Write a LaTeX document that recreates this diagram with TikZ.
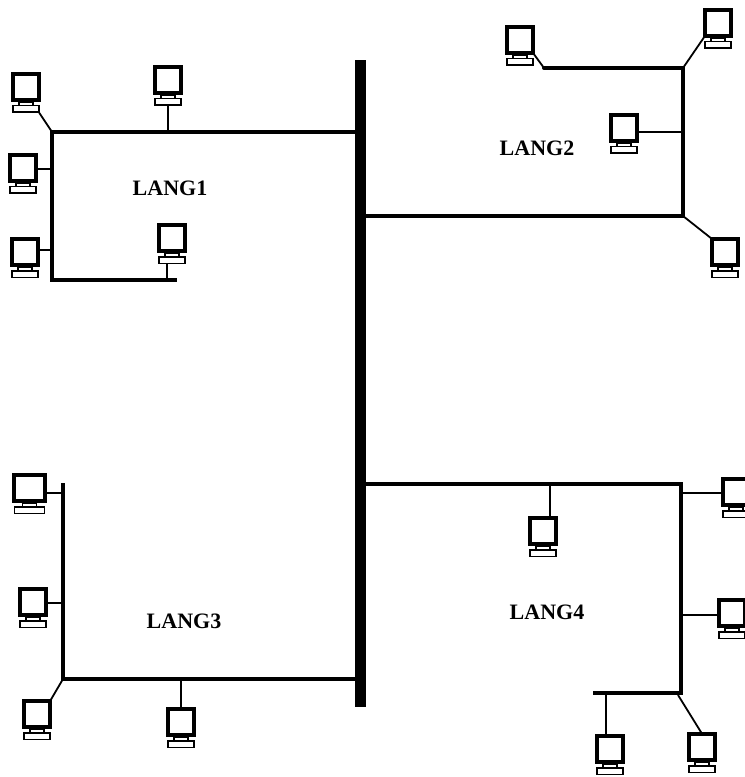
\documentclass[tikz,border=0pt]{standalone}
\usepackage{fontspec}
\setmainfont{Liberation Serif}
\tikzset{
  monitor/.style={draw=black,fill=white,line width=3.8*0.75pt,minimum width=26.5*0.75pt,minimum height=26.5*0.75pt,inner sep=0pt,outer sep=0pt},
  kbd/.style={draw=black,fill=white,line width=1.5*0.75pt,minimum width=26*0.75pt,minimum height=6.5*0.75pt,inner sep=0pt,outer sep=0pt},
  standbox/.style={draw=black,fill=white,line width=1.2*0.75pt,minimum width=14*0.75pt,minimum height=3*0.75pt,inner sep=0pt,outer sep=0pt},
  bus/.style={draw=black,line width=4.6*0.75pt,line cap=round,line join=miter},
  thinbus/.style={draw=black,line width=3.6*0.75pt,line join=miter},
  tap/.style={draw=black,line width=1.8*0.75pt},
  spinebar/.style={fill=black,inner sep=0pt,outer sep=0pt,minimum width=11*0.75pt,minimum height=647*0.75pt},
  lang/.style={font=\fontsize{16.5pt}{18pt}\selectfont\bfseries,inner sep=0pt}
}
\newcommand{\pcunit}[4][26.5]{%
  \node[standbox] (#2s) at (#3,#4+16.7) {};
  \node[kbd,minimum width=#1*0.75pt-0.5pt] (#2k) at (#3,#4+22) {};
  \node[monitor,minimum width=#1*0.75pt] (#2) at (#3,#4) {};
}
\begin{document}
\begin{tikzpicture}[x=0.75pt,y=-0.75pt]
\useasboundingbox (0,0) rectangle (744,777);
\fill[white] (0,0) rectangle (744,777);
% backbone
\node[spinebar] (spine) at (360.5,383.5) {};
% computers
\pcunit{a}{26}{87}
\pcunit{b}{168}{80}
\pcunit{c}{23}{168}
\pcunit{d}{25}{252}
\pcunit{e}{172}{238}
\pcunit{f}{520}{40}
\pcunit{g}{718}{23}
\pcunit{h}{624}{128}
\pcunit{i}{725}{252}
\pcunit{j}{736}{492}
\pcunit{k}{732}{613}
\pcunit{l}{610}{749}
\pcunit{m}{702}{747}
\pcunit{n}{543}{531}
\pcunit[31]{o}{29.5}{488}
\pcunit{p}{33}{602}
\pcunit{q}{37}{714}
\pcunit{r}{181}{722}
% LAN corners
\coordinate (c1a) at (52,132);
\coordinate (c1b) at (52,280);
\coordinate (c1c) at (177,280);
\coordinate (c2a) at (544,68);
\coordinate (c2b) at (683,68);
\coordinate (c2c) at (683,216);
\coordinate (c3a) at (63,483);
\coordinate (c3b) at (63,679);
\coordinate (c4a) at (681,484);
\coordinate (c4b) at (681,693);
\coordinate (c4c) at (593,693);
% buses
\draw[bus,line cap=butt] (spine.west |- c1a) -- (c1a) -- (c1b) -- (c1c);
\draw[bus,line width=4*0.75pt] (c2a) -- (c2b) -- (c2c) -- (spine.east |- c2c);
\draw[thinbus] (c3a) -- (c3b) -- (spine.west |- c3b);
\draw[thinbus] (spine.east |- c4a) -- (c4a) -- (c4b) -- (c4c);
% taps LANG1
\draw[tap] (ak.south east) -- (c1a);
\draw[tap] (bk.south) -- (bk.south |- c1a);
\draw[tap] (c.east |- 0,169) -- (c1a |- 0,169);
\draw[tap] (d.east |- 0,250) -- (c1a |- 0,250);
\draw[tap] (ek.south) ++(-5,0) -- (167,280);
% taps LANG2
\draw[tap] (f.south east) -- (c2a);
\draw[tap] (g.south west) -- (c2b);
\draw[tap] (h.east |- 0,132) -- (c2b |- 0,132);
\draw[tap] (c2c) -- (i.north west);
% taps LANG3
\draw[tap] (o.east |- 0,493) -- (c3a |- 0,493);
\draw[tap] (p.east |- 0,603) -- (c3a |- 0,603);
\draw[tap] (q.north east) -- (c3b);
\draw[tap] (r.north |- c3b) -- (r.north);
% taps LANG4
\draw[tap] (n.north -| 550,0) -- (550,484);
\draw[tap] (j.west |- 0,493) -- (c4a |- 0,493);
\draw[tap] (k.west |- 0,615) -- (c4a |- 0,615);
\draw[tap] (606,693) -- (l.north -| 606,0);
\draw[tap] (c4b) ++(-3,2) -- (m.north);
% labels
\node[lang] (l1) at (170,188) {LANG1};
\node[lang] (l2) at (537,148) {LANG2};
\node[lang] (l3) at (184,621) {LANG3};
\node[lang] (l4) at (547,612) {LANG4};
\end{tikzpicture}
\end{document}
